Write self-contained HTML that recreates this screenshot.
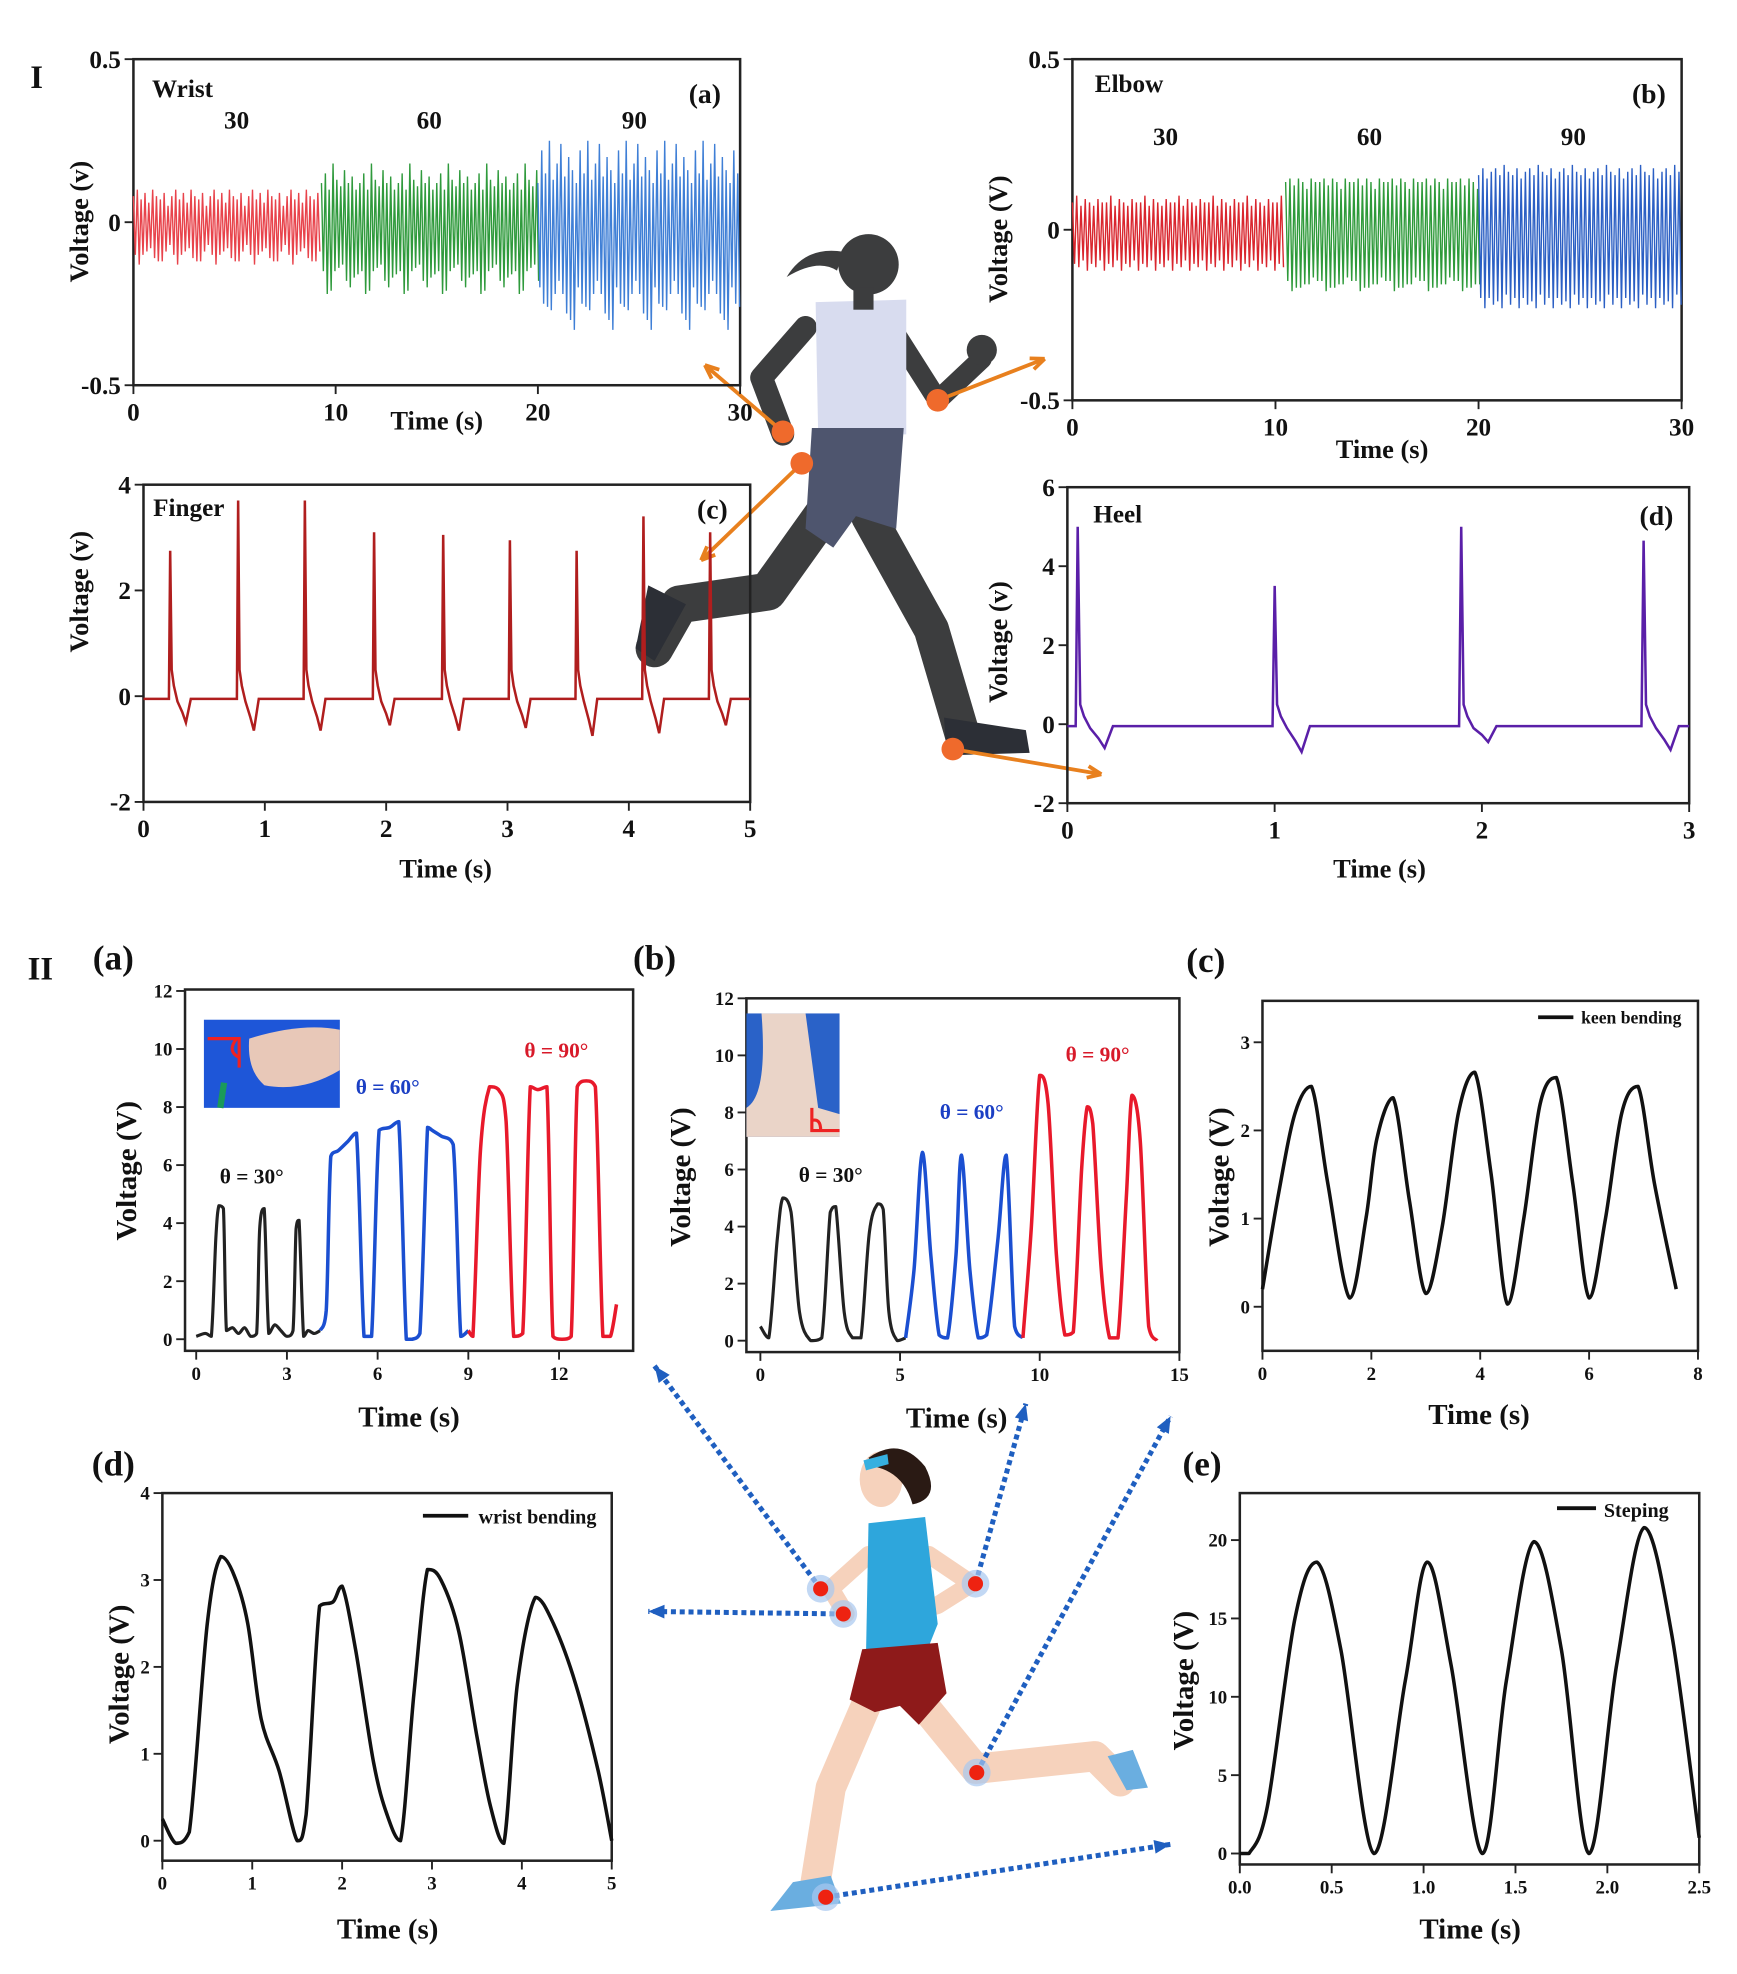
<!DOCTYPE html>
<html><head><meta charset="utf-8"><style>
html,body{margin:0;padding:0;background:#fff}
svg{display:block}
text{font-family:"Liberation Serif",serif;font-weight:bold;fill:#111}
</style></head><body>
<svg id="fig" width="1737" height="1974" viewBox="0 0 1380 1568" preserveAspectRatio="none" xmlns="http://www.w3.org/2000/svg">
<rect x="0" y="0" width="1380" height="1568" fill="#fff"/>
<g id="people"></g>
<g id="charts"></g>
</svg>
<script>
// ---------- DATA ----------
const wristSegments = [0, 9.3, 20, 30];
const wristHighs = [[0.08,0.1,0.07,0.09,0.06,0.1,0.08,0.07,0.09,0.05],[0.12,0.15,0.1,0.18,0.13,0.11,0.16,0.12,0.14,0.1],[0.12,0.22,0.15,0.25,0.13,0.18,0.24,0.14,0.2,0.16]];
const wristLows = [[-0.1,-0.12,-0.08,-0.13,-0.09,-0.11,-0.1,-0.07,-0.12,-0.09],[-0.15,-0.2,-0.14,-0.22,-0.17,-0.13,-0.21,-0.16,-0.18,-0.15],[-0.2,-0.28,-0.22,-0.25,-0.3,-0.18,-0.26,-0.33,-0.22,-0.27]];
const elbowSegments = [0, 10.5, 20, 30];
const elbowHighs = [[0.08,0.1,0.07,0.09,0.08,0.07,0.09,0.08],[0.14,0.15,0.13,0.15,0.14,0.12,0.15,0.14],[0.16,0.18,0.15,0.17,0.18,0.16,0.19,0.17]];
const elbowLows = [[-0.1,-0.12,-0.09,-0.11,-0.1,-0.12,-0.09,-0.11],[-0.15,-0.17,-0.14,-0.18,-0.16,-0.15,-0.17,-0.16],[-0.2,-0.22,-0.19,-0.23,-0.21,-0.22,-0.2,-0.23]];
const rateLabels = ["30","60","90"];
const fingerSpikeT = [0.22,0.78,1.33,1.9,2.47,3.02,3.57,4.12,4.67];
const fingerSpikeV = [2.75,3.7,3.7,3.1,3.05,2.95,2.75,3.4,3.1];
const fingerDipV = [-0.5,-0.65,-0.65,-0.55,-0.65,-0.6,-0.75,-0.7,-0.55];
const heelSpikeT = [0.05,1.0,1.9,2.78];
const heelSpikeV = [5.0,3.5,5.0,4.65];
const heelDipV = [-0.6,-0.7,-0.45,-0.65];
const f2T = [0,0.3,0.5,0.65,0.75,0.9,1.0,1.2,1.4,1.6,1.8,2.0,2.1,2.25,2.4,2.6,2.8,3.0,3.2,3.3,3.4,3.55,3.7,3.9,4.1];
const f2V = [0.1,0.2,0.1,3.5,4.6,4.5,0.3,0.4,0.2,0.4,0.1,0.2,3.8,4.5,0.2,0.5,0.3,0.1,0.3,3.8,4.1,0.1,0.3,0.2,0.3];
const f2bT = [4.1,4.3,4.45,4.7,5.0,5.3,5.55,5.8,6.05,6.4,6.7,6.95,7.15,7.4,7.65,7.8,8.1,8.5,8.75,9.0];
const f2bV = [0.3,1.0,6.3,6.5,6.8,7.1,0.1,0.1,7.2,7.3,7.5,0.0,0.0,0.2,7.3,7.2,7.0,6.7,0.1,0.3];
const f2cT = [9.0,9.15,9.4,9.7,10.0,10.25,10.5,10.8,11.05,11.3,11.6,11.8,12.1,12.4,12.6,12.9,13.2,13.45,13.7,13.9];
const f2cV = [0.3,0.1,6.5,8.7,8.6,7.5,0.1,0.2,8.7,8.6,8.7,0.1,0.0,0.1,8.7,8.9,8.7,0.1,0.1,1.2];
const e2T = [0,0.3,0.6,0.8,1.1,1.4,1.8,2.2,2.5,2.7,3.0,3.3,3.6,3.9,4.2,4.4,4.6,4.9,5.2];
const e2V = [0.5,0.1,3.5,5.0,4.5,1.0,0.0,0.1,4.5,4.7,1.0,0.1,0.1,3.8,4.8,4.6,1.0,0.0,0.1];
const e2bT = [5.2,5.5,5.8,6.1,6.4,6.7,7.0,7.2,7.5,7.8,8.1,8.5,8.8,9.1,9.4];
const e2bV = [0.1,2.5,6.6,3.0,0.2,0.1,3.0,6.5,2.5,0.1,0.2,3.5,6.5,0.5,0.1];
const e2cT = [9.4,9.7,10.0,10.3,10.6,10.9,11.2,11.5,11.7,11.9,12.2,12.5,12.8,13.1,13.3,13.6,13.9,14.2];
const e2cV = [0.1,4.0,9.3,8.3,3.0,0.2,0.3,6.0,8.2,7.6,2.5,0.1,0.1,5.0,8.6,7.0,0.5,0.0];
const kneeT = [0,0.3,0.6,0.9,1.2,1.6,1.9,2.1,2.4,2.7,3.0,3.3,3.6,3.9,4.2,4.5,4.8,5.1,5.4,5.7,6.0,6.3,6.6,6.9,7.2,7.6];
const kneeV = [0.2,1.3,2.2,2.5,1.4,0.1,1.0,1.9,2.37,1.2,0.15,0.9,2.2,2.66,1.5,0.03,1.0,2.3,2.6,1.4,0.1,1.0,2.2,2.5,1.4,0.2];
const wbT = [0,0.15,0.3,0.5,0.65,0.8,0.95,1.1,1.3,1.5,1.6,1.75,1.9,2.0,2.15,2.35,2.5,2.65,2.8,2.95,3.1,3.3,3.5,3.65,3.8,3.95,4.15,4.35,4.6,4.85,5.0];
const wbV = [0.25,-0.03,0.1,2.5,3.27,3.05,2.5,1.4,0.8,0.0,0.3,2.7,2.75,2.93,2.2,0.9,0.3,0.0,1.7,3.12,3.0,2.4,1.2,0.4,-0.03,1.8,2.8,2.5,1.8,0.8,0.0];
const stT = [0,0.05,0.15,0.3,0.42,0.55,0.73,0.9,1.02,1.15,1.32,1.45,1.6,1.75,1.9,2.05,2.2,2.35,2.5];
const stV = [0,0,3,15,18.6,13,0,11,18.6,12,0,11,19.9,13,0,12,20.8,14,1];
const tI30 = ["0","10","20","30"], tIa_y = ["0.5","0","-0.5"];
const tIc_x = ["0","1","2","3","4","5"], tIc_y = ["4","2","0","-2"];
const tId_x = ["0","1","2","3"], tId_y = ["6","4","2","0","-2"];
const tIIa_x = ["0","3","6","9","12"], tIIa_y = ["12","10","8","6","4","2","0"];
const tIIb_x = ["0","5","10","15"];
const tIIc_x = ["0","2","4","6","8"], tIIc_y = ["3","2","1","0"];
const tIId_x = ["0","1","2","3","4","5"], tIId_y = ["4","3","2","1","0"];
const tIIe_x = ["0.0","0.5","1.0","1.5","2.0","2.5"], tIIe_y = ["20","15","10","5","0"];

// ---------- HELPERS ----------
const NS = "http://www.w3.org/2000/svg";
const charts = document.getElementById('charts');
function mk(tag, attrs, parent){const e=document.createElementNS(NS,tag);for(const k in attrs)e.setAttribute(k,attrs[k]);(parent||charts).appendChild(e);return e;}
function txt(s,x,y,size,parent,extra){const e=mk('text',Object.assign({x:x,y:y,'font-size':size,'text-anchor':'middle'},extra||{}),parent);e.textContent=s;return e;}
function clampY(v,a,b){const lo=Math.min(a,b),hi=Math.max(a,b);return Math.max(lo,Math.min(hi,v));}
function smooth(pts){if(pts.length<2)return'';let d='M'+pts[0][0].toFixed(1)+','+pts[0][1].toFixed(1);for(let i=0;i<pts.length-1;i++){const p0=pts[i-1]||pts[i],p1=pts[i],p2=pts[i+1],p3=pts[i+2]||p2;const c1=[p1[0]+(p2[0]-p0[0])/6,clampY(p1[1]+(p2[1]-p0[1])/6,p1[1],p2[1])],c2=[p2[0]-(p3[0]-p1[0])/6,clampY(p2[1]-(p3[1]-p1[1])/6,p1[1],p2[1])];d+=' C'+c1[0].toFixed(1)+','+c1[1].toFixed(1)+' '+c2[0].toFixed(1)+','+c2[1].toFixed(1)+' '+p2[0].toFixed(1)+','+p2[1].toFixed(1);}return d;}
function axes(cfg){
  const g=mk('g',{});
  
  
  const sx=v=>cfg.x0+(v-cfg.xmin)/(cfg.xmax-cfg.xmin)*(cfg.x1-cfg.x0);
  const sy=v=>cfg.y1-(v-cfg.ymin)/(cfg.ymax-cfg.ymin)*(cfg.y1-cfg.y0);
  const box=mk('rect',{x:cfg.x0,y:cfg.y0,width:cfg.x1-cfg.x0,height:cfg.y1-cfg.y0,fill:'none',stroke:'#222','stroke-width':2},g);
  
  
  cfg.xt.forEach(s=>{const v=parseFloat(s),X=sx(v);mk('line',{x1:X,x2:X,y1:cfg.y1,y2:cfg.y1+7,stroke:'#222','stroke-width':1.5},g);const t=txt(s,X,cfg.y1+cfg.xfs+8,cfg.xfs,g);});
  cfg.yt.forEach(s=>{const v=parseFloat(s),Y=sy(v);mk('line',{x1:cfg.x0-7,x2:cfg.x0,y1:Y,y2:Y,stroke:'#222','stroke-width':1.5},g);const t=txt(s,cfg.x0-10,Y+cfg.yfs*0.35,cfg.yfs,g,{'text-anchor':'end'});});
  const xl=txt('Time (s)',cfg.xlx,cfg.xly,cfg.tfs,g);
  const yl=txt(cfg.ylab,0,0,cfg.tfs,g,{transform:'translate('+cfg.ylx+','+cfg.yly+') rotate(-90)'});
  return {g,sx,sy};
}
function seriesPath(ax,T,V,color,w,name){const p=mk('path',{d:smooth(T.map((t,i)=>[ax.sx(t),ax.sy(V[i])])),fill:'none',stroke:color,'stroke-width':w,'stroke-linejoin':'round'},ax.g);return p;}
function polyPath(ax,T,V,color,w,name){const p=mk('path',{d:T.map((t,i)=>(i?'L':'M')+ax.sx(t).toFixed(1)+','+ax.sy(V[i]).toFixed(1)).join(''),fill:'none',stroke:color,'stroke-width':w},ax.g);return p;}
function osc(ax,segs,highs,lows,colors,period,name){
  for(let s=0;s<3;s++){const T=[],V=[];let k=0;for(let t=segs[s];t<segs[s+1];t+=period){T.push(t);V.push(highs[s][k%highs[s].length]);T.push(t+period/2);V.push(lows[s][(k*3)%lows[s].length]);k++;}
    polyPath(ax,T,V,colors[s],1.1,name+'-'+rateLabels[s]);}
}
function spikes(ax,ST,SV,DV,base,color,name,xmax){
  const T=[0],V=[base];
  ST.forEach((t,i)=>{T.push(t-0.01,t,t+0.012,t+0.03,t+0.06,t+0.1,t+0.13,t+0.17,t+0.22);V.push(base,SV[i],0.5,0.2,-0.1,DV[i]*0.6,DV[i],base,base);});
  T.push(xmax);V.push(base);
  polyPath(ax,T,V,color,2,name);
}

// ---------- PART I ----------
let ax=axes({name:'chart-I-a-wrist',x0:106,x1:588,y0:47,y1:306,xmin:0,xmax:30,ymin:-0.5,ymax:0.5,xt:tI30,yt:tIa_y,xfs:20,yfs:20,tfs:21,xlx:347,xly:341,ylab:'Voltage (v)',ylx:70,yly:176});
osc(ax,wristSegments,wristHighs,wristLows,['#e8434b','#2f9a3c','#3f7fd6'],0.19,'wrist-signal');
txt('Wrist',145,77,20,ax.g);txt('(a)',560,82,22,ax.g);
[[188,102],[341,102],[504,102]].forEach((p,i)=>{const t=txt(rateLabels[i],p[0],p[1],20,ax.g);});
mk('text',{x:24,y:70,'font-size':26,'font-family':'Liberation Sans'},charts).textContent='I';

ax=axes({name:'chart-I-b-elbow',x0:852,x1:1336,y0:47,y1:318,xmin:0,xmax:30,ymin:-0.5,ymax:0.5,xt:tI30,yt:tIa_y,xfs:20,yfs:20,tfs:21,xlx:1098,xly:364,ylab:'Voltage  (V)',ylx:800,yly:190});
osc(ax,elbowSegments,elbowHighs,elbowLows,['#d9262e','#2e9a3a','#2b5fc4'],0.21,'elbow-signal');
txt('Elbow',897,73,20,ax.g);txt('(b)',1310,82,22,ax.g);
[[926,115],[1088,115],[1250,115]].forEach((p,i)=>{const t=txt(rateLabels[i],p[0],p[1],20,ax.g);});

ax=axes({name:'chart-I-c-finger',x0:114,x1:596,y0:385,y1:637,xmin:0,xmax:5,ymin:-2,ymax:4,xt:tIc_x,yt:tIc_y,xfs:20,yfs:20,tfs:21,xlx:354,xly:697,ylab:'Voltage (v)',ylx:70,yly:470});
spikes(ax,fingerSpikeT,fingerSpikeV,fingerDipV,-0.05,'#b01e1e','finger-signal',5);
txt('Finger',150,410,20,ax.g);txt('(c)',566,412,22,ax.g);

ax=axes({name:'chart-I-d-heel',x0:848,x1:1342,y0:387,y1:638,xmin:0,xmax:3,ymin:-2,ymax:6,xt:tId_x,yt:tId_y,xfs:20,yfs:20,tfs:21,xlx:1096,xly:697,ylab:'Voltage (v)',ylx:800,yly:510});
spikes(ax,heelSpikeT,heelSpikeV,heelDipV,-0.05,'#5a1fa8','heel-signal',3);
txt('Heel',888,415,20,ax.g);txt('(d)',1316,417,22,ax.g);

// ---------- PART II ----------
mk('text',{x:22,y:778,'font-size':26,'font-family':'Liberation Sans'},charts).textContent='II';
ax=axes({name:'chart-II-a-finger',x0:147,x1:503,y0:786,y1:1073,xmin:-0.37,xmax:14.45,ymin:-0.4,ymax:12.05,xt:tIIa_x,yt:tIIa_y,xfs:15,yfs:15,tfs:23,xlx:325,xly:1133,ylab:'Voltage (V)',ylx:108,yly:930});
seriesPath(ax,f2T,f2V,'#222',2.5,'finger-30deg');seriesPath(ax,f2bT,f2bV,'#1b4fd1',2.8,'finger-60deg');seriesPath(ax,f2cT,f2cV,'#e8192b',2.8,'finger-90deg');
txt('θ = 30°',200,940,17,ax.g);txt('θ = 60°',308,869,17,ax.g,{style:'fill:#1b3fc4'});txt('θ = 90°',442,840,17,ax.g,{style:'fill:#d81a2a'});
txt('(a)',90,770,28,charts);
let ins=mk('g',{});
mk('rect',{x:162,y:810,width:108,height:70,fill:'#1e56d8'},ins);mk('path',{d:'M198,825 Q240,812 270,818 L270,850 Q240,868 210,862 Q196,850 198,825Z',fill:'#e8c8b8'},ins);
mk('path',{d:'M165,825 H190 V848 M188,825 Q180,835 190,840',fill:'none',stroke:'#e22',"stroke-width":2.5},ins);mk('path',{d:'M178,860 L175,880',stroke:'#1a9a5a','stroke-width':5},ins);

ax=axes({name:'chart-II-b-elbow',x0:593,x1:937,y0:793,y1:1074,xmin:-0.5,xmax:15,ymin:-0.4,ymax:12,xt:tIIb_x,yt:tIIa_y,xfs:15,yfs:15,tfs:23,xlx:760,xly:1134,ylab:'Voltage (V)',ylx:548,yly:935});
seriesPath(ax,e2T,e2V,'#222',2.5,'elbow-30deg');seriesPath(ax,e2bT,e2bV,'#1b4fd1',2.8,'elbow-60deg');seriesPath(ax,e2cT,e2cV,'#e8192b',2.8,'elbow-90deg');
txt('θ = 30°',660,939,17,ax.g);txt('θ = 60°',772,889,17,ax.g,{style:'fill:#1b3fc4'});txt('θ = 90°',872,843,17,ax.g,{style:'fill:#d81a2a'});
txt('(b)',520,770,28,charts);
ins=mk('g',{});
mk('rect',{x:593,y:805,width:74,height:98,fill:'#2a62c8'},ins);mk('path',{d:'M605,805 L640,805 L650,880 L667,885 L667,903 L593,903 L593,880 Q610,870 605,805Z',fill:'#ead4c8'},ins);
mk('path',{d:'M645,880 V898 H667 M645,890 Q652,888 652,898',fill:'none',stroke:'#e22','stroke-width':2.5},ins);

ax=axes({name:'chart-II-c-knee',x0:1003,x1:1349,y0:795,y1:1073,xmin:0,xmax:8,ymin:-0.5,ymax:3.47,xt:tIIc_x,yt:tIIc_y,xfs:15,yfs:15,tfs:23,xlx:1175,xly:1131,ylab:'Voltage (V)',ylx:976,yly:935});
seriesPath(ax,kneeT,kneeV,'#111',2.8,'knee-signal');
mk('line',{x1:1222,x2:1250,y1:808,y2:808,stroke:'#111','stroke-width':3},ax.g);txt('keen bending',1296,813,14,ax.g);
txt('(c)',958,772,28,charts);

ax=axes({name:'chart-II-d-wrist',x0:129,x1:486,y0:1186,y1:1478,xmin:0,xmax:5,ymin:-0.23,ymax:4,xt:tIId_x,yt:tIId_y,xfs:15,yfs:15,tfs:23,xlx:308,xly:1540,ylab:'Voltage (V)',ylx:102,yly:1330});
seriesPath(ax,wbT,wbV,'#111',2.8,'wrist-bending-signal');
mk('line',{x1:336,x2:372,y1:1204,y2:1204,stroke:'#111','stroke-width':3},ax.g);txt('wrist bending',427,1210,16,ax.g);
txt('(d)',90,1172,28,charts);

ax=axes({name:'chart-II-e-step',x0:985,x1:1350,y0:1186,y1:1481,xmin:0,xmax:2.5,ymin:-0.7,ymax:23,xt:tIIe_x,yt:tIIe_y,xfs:15,yfs:15,tfs:23,xlx:1168,xly:1540,ylab:'Voltage (V)',ylx:948,yly:1335});
seriesPath(ax,stT,stV,'#111',2.8,'stepping-signal');
mk('line',{x1:1237,x2:1268,y1:1198,y2:1198,stroke:'#111','stroke-width':3},ax.g);txt('Steping',1300,1205,16,ax.g);
txt('(e)',955,1172,28,charts);

// ---------- PEOPLE ----------
const pg=document.getElementById('people');
let r1=mk('g',{},pg);
const dk='#3c3d3e';
[['M640,260 L605,300 L622,345','18'],['M705,255 L745,318 L780,285','16'],['M660,400 L610,470 L540,480 L520,515','30'],['M690,410 L740,500 L765,585','28']].forEach(a=>mk('path',{d:a[0],fill:'none',stroke:dk,'stroke-width':a[1],'stroke-linecap':'round','stroke-linejoin':'round'},r1));
mk('path',{d:'M648,240 L720,238 L720,345 L650,345Z',fill:'#d8dcef'},r1);
mk('path',{d:'M645,340 L718,340 L712,420 L680,410 L662,435 L640,420Z',fill:'#4e556e'},r1);
mk('circle',{cx:690,cy:210,r:24,fill:dk},r1);mk('path',{d:'M670,200 Q640,195 625,220 Q650,205 665,215Z',fill:dk},r1);mk('rect',{x:678,y:228,width:16,height:18,fill:dk},r1);
mk('path',{d:'M750,570 L815,580 L818,598 L752,600Z',fill:'#2c2f36'},r1);mk('path',{d:'M515,465 L545,480 L520,525 L505,515Z',fill:'#2c2f36'},r1);
mk('circle',{cx:780,cy:278,r:12,fill:dk},r1);
[[622,343,560,290],[637,368,557,445],[745,318,830,285],[757,595,875,615]].forEach(a=>{mk('line',{x1:a[0],y1:a[1],x2:a[2],y2:a[3],stroke:'#e8801e','stroke-width':3},r1);const ang=Math.atan2(a[3]-a[1],a[2]-a[0]);mk('path',{d:`M${a[2]},${a[3]} L${a[2]-12*Math.cos(ang-0.4)},${a[3]-12*Math.sin(ang-0.4)} M${a[2]},${a[3]} L${a[2]-12*Math.cos(ang+0.4)},${a[3]-12*Math.sin(ang+0.4)}`,stroke:'#e8801e','stroke-width':3},r1);mk('circle',{cx:a[0],cy:a[1],r:9,fill:'#ef6a2c'},r1);});

let r2=mk('g',{},pg);
const sk='#f6d2bc';
[['M690,1235 L660,1262 L672,1282','14'],['M738,1235 L772,1258 L745,1275 L712,1285','14'],['M690,1350 L660,1420 L648,1495','24'],['M730,1350 L775,1405 L870,1395 L890,1415','24']].forEach(a=>mk('path',{d:a[0],fill:'none',stroke:sk,'stroke-width':a[1],'stroke-linecap':'round','stroke-linejoin':'round'},r2));
mk('path',{d:'M690,1210 L735,1205 L745,1290 L735,1315 L688,1315Z',fill:'#2ea6dc'},r2);
mk('path',{d:'M685,1310 L745,1305 L752,1345 L730,1370 L715,1355 L695,1360 L675,1350Z',fill:'#8e1a1a'},r2);
mk('ellipse',{cx:700,cy:1175,rx:17,ry:22,fill:sk},r2);mk('path',{d:'M690,1158 Q715,1140 735,1165 Q748,1190 725,1195 Q718,1170 695,1165Z',fill:'#2a1a14'},r2);mk('path',{d:'M686,1160 L705,1155 L706,1163 L688,1168Z',fill:'#36b0e0'},r2);
mk('path',{d:'M630,1495 L660,1490 L668,1512 L612,1518Z',fill:'#6aaee0'},r2);mk('path',{d:'M880,1395 L900,1390 L912,1420 L895,1422Z',fill:'#6aaee0'},r2);
[[652,1262,520,1085],[670,1282,515,1280],[775,1258,815,1115],[776,1408,930,1125],[656,1507,930,1465]].forEach(a=>{mk('line',{x1:a[0],y1:a[1],x2:a[2],y2:a[3],stroke:'#1f5fc0','stroke-width':4,'stroke-dasharray':'4 3'},r2);const ang=Math.atan2(a[3]-a[1],a[2]-a[0]);mk('path',{d:`M${a[2]},${a[3]} L${a[2]-14*Math.cos(ang-0.4)},${a[3]-14*Math.sin(ang-0.4)} L${a[2]-14*Math.cos(ang+0.4)},${a[3]-14*Math.sin(ang+0.4)}Z`,fill:'#1f5fc0'},r2);mk('circle',{cx:a[0],cy:a[1],r:11,fill:'#a8c8f0',opacity:0.7},r2);mk('circle',{cx:a[0],cy:a[1],r:6,fill:'#e21'},r2);});
</script>
</body></html>
